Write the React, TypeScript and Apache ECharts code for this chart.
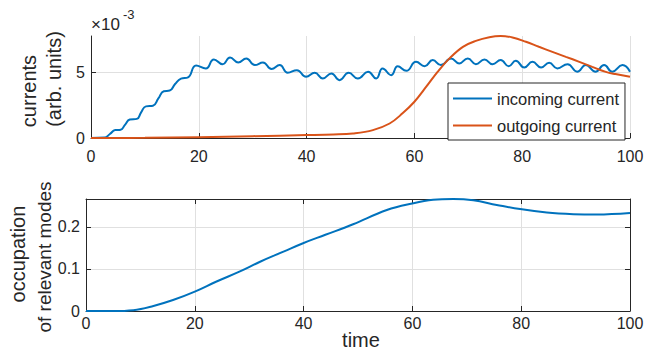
import React, { useEffect, useRef } from "react";
import * as echarts from "echarts";

// incoming current (units of 1e-3)
const incomingTime = [0, 2.5, 3.5, 4.5, 5.5, 6.3, 7.2, 8.5, 9.3, 10.2, 11.5, 12.5, 13.5, 14.6, 15.6, 16.7, 18, 19.5, 21.3, 22.8, 24.4, 25.8, 27.3, 28.8, 30.4, 31.9, 33.5, 35, 36.5, 38.2, 39.9, 41.5, 43, 44.6, 46.1, 47.8, 49.5, 51.4, 52.9, 54.1, 55.7, 56.9, 58.5, 60.3, 61.9, 63.4, 64.9, 66.8, 68.3, 69.9, 71.4, 73, 74.5, 76, 77.5, 78.8, 80.4, 81.9, 83.5, 85, 86.5, 88.4, 90.2, 91.8, 93.6, 95.2, 96.7, 98.6, 100];
const incomingValues = [0, 0.03, 0.3, 0.6, 0.63, 1.0, 1.4, 1.45, 1.95, 2.4, 2.45, 3.0, 3.55, 3.6, 4.1, 4.5, 4.6, 5.5, 5.28, 5.96, 5.6, 6.1, 5.73, 6.03, 5.53, 5.73, 5.23, 5.53, 4.95, 5.15, 4.65, 4.95, 4.52, 4.9, 4.39, 4.95, 4.52, 5.03, 4.52, 5.28, 4.77, 5.45, 5.1, 5.78, 5.45, 5.91, 5.53, 6.04, 5.66, 6.04, 5.6, 5.96, 5.6, 5.91, 5.45, 5.86, 5.35, 5.78, 5.35, 5.71, 5.28, 5.6, 5.03, 5.53, 5.03, 5.53, 5.03, 5.53, 5.03];

// outgoing current (units of 1e-3)
const outgoingTime = [0, 10, 20, 30, 40, 45, 48.6, 52.3, 55.4, 57.8, 60, 62.2, 64.3, 66.5, 69, 71.4, 73.9, 76, 78.2, 80.7, 83.1, 85.6, 88.1, 90.6, 93, 95.5, 97.3, 100];
const outgoingValues = [0, 0.01, 0.06, 0.14, 0.22, 0.27, 0.35, 0.6, 1.1, 1.87, 2.75, 3.89, 5.02, 6.04, 6.92, 7.37, 7.65, 7.74, 7.63, 7.3, 6.92, 6.54, 6.16, 5.78, 5.4, 5.02, 4.85, 4.65];

// occupation of relevant modes
const occupationTime = [0, 5, 8.7, 12.4, 16, 20, 24, 28.3, 32, 36.3, 39.9, 44, 49.1, 55.3, 60.2, 63.8, 67.5, 71.2, 75.5, 79.8, 84.7, 89.6, 93.9, 100];
const occupationValues = [0, 0, 0.002, 0.012, 0.026, 0.046, 0.07, 0.094, 0.117, 0.141, 0.161, 0.181, 0.206, 0.24, 0.256, 0.264, 0.266, 0.263, 0.252, 0.242, 0.234, 0.23, 0.229, 0.2325];

const xTicks = [0, 20, 40, 60, 80, 100];
const topYTicks = [0, 5];
const bottomYTicks = [0, 0.1, 0.2];
const legendNames = ["incoming current", "outgoing current"];

const FONT = "Liberation Sans, Arial, Helvetica, sans-serif";
const TXT = "#262626";
const GRID = "#e0e0e0";
const BLUE = "#0072BD";
const ORANGE = "#D95319";

const zip = (a: number[], b: number[]) => a.map((t, i) => [t, b[i]]);

export default function App() {
  const ref = useRef<HTMLDivElement>(null);
  useEffect(() => {
    if (!ref.current) return;
    const chart = echarts.init(ref.current, null, { renderer: "svg" });
    const topMax = Math.max(...outgoingValues);
    const botMax = Math.max(...occupationValues);
    const axisLine = { show: true, onZero: false, lineStyle: { color: TXT, width: 1 } };
    const tick = (vals: number[]) => ({ show: true, inside: true, length: 5, customValues: vals, lineStyle: { color: TXT } });
    const label = (vals: number[], margin: number) => ({
      show: true,
      customValues: vals,
      color: TXT,
      fontSize: 16,
      fontFamily: FONT,
      margin,
    });
    const txt = (text: string, x: number, y: number, size: number, rot: number, align: string) => ({
      type: "text",
      x,
      y,
      rotation: rot,
      style: {
        text,
        fontSize: size,
        fontFamily: FONT,
        fill: TXT,
        textAlign: align,
        textVerticalAlign: "middle",
        align,
        verticalAlign: "middle",
      },
    });
    chart.setOption({
      animation: false,
      grid: [
        { left: 91, top: 36, width: 539, height: 102 },
        { left: 86, top: 199, width: 544, height: 112 },
      ],
      xAxis: [
        {
          type: "value", gridIndex: 0, min: 0, max: 100, interval: 20, position: "bottom",
          axisLine, axisTick: tick(xTicks), axisLabel: label(xTicks, 10),
          splitLine: { show: true, lineStyle: { color: GRID } },
        },
        {
          type: "value", gridIndex: 1, min: 0, max: 100, interval: 20, position: "bottom",
          axisLine, axisTick: tick(xTicks), axisLabel: label(xTicks, 4),
          splitLine: { show: true, lineStyle: { color: GRID } },
        },
        {
          type: "value", gridIndex: 1, min: 0, max: 100, interval: 20, position: "top",
          axisLine, axisTick: tick(xTicks), axisLabel: { show: false }, splitLine: { show: false },
        },
      ],
      yAxis: [
        {
          type: "value", gridIndex: 0, min: 0, max: topMax, interval: 5, position: "left",
          axisLine, axisTick: tick(topYTicks), axisLabel: label(topYTicks, 6),
          splitLine: { show: true, lineStyle: { color: [GRID, GRID, "rgba(0,0,0,0)"] } },
        },
        {
          type: "value", gridIndex: 1, min: 0, max: botMax, interval: 0.1, position: "left",
          axisLine, axisTick: tick(bottomYTicks), axisLabel: label(bottomYTicks, 6),
          splitLine: { show: true, lineStyle: { color: [GRID, GRID, GRID, "rgba(0,0,0,0)"] } },
        },
        {
          type: "value", gridIndex: 1, min: 0, max: botMax, interval: 0.1, position: "right",
          axisLine, axisTick: tick(bottomYTicks), axisLabel: { show: false }, splitLine: { show: false },
        },
      ],
      legend: {
        data: legendNames,
        orient: "vertical",
        left: 448,
        top: 83,
        icon: "rect",
        itemWidth: 39,
        itemHeight: 2,
        itemGap: 10,
        padding: [7, 6, 6, 5],
        backgroundColor: "#fff",
        borderColor: TXT,
        borderWidth: 1,
        textStyle: { color: TXT, fontSize: 16.5, fontFamily: FONT, lineHeight: 16 },
      },
      series: [
        {
          name: legendNames[0], type: "line", xAxisIndex: 0, yAxisIndex: 0,
          data: zip(incomingTime, incomingValues), smooth: 0.5, showSymbol: false, symbol: "none",
          lineStyle: { color: BLUE, width: 2 }, itemStyle: { color: BLUE },
        },
        {
          name: legendNames[1], type: "line", xAxisIndex: 0, yAxisIndex: 0,
          data: zip(outgoingTime, outgoingValues), smooth: 0.4, showSymbol: false, symbol: "none",
          lineStyle: { color: ORANGE, width: 2 }, itemStyle: { color: ORANGE },
        },
        {
          name: "occupation", type: "line", xAxisIndex: 1, yAxisIndex: 1,
          data: zip(occupationTime, occupationValues), smooth: 0.4, showSymbol: false, symbol: "none",
          lineStyle: { color: BLUE, width: 2 }, itemStyle: { color: BLUE },
        },
      ],
      graphic: [
        txt("currents", 28.5, 91, 20, Math.PI / 2, "center"),
        txt("(arb. units)", 54, 79, 20, Math.PI / 2, "center"),
        txt("occupation", 18, 254, 20, Math.PI / 2, "center"),
        txt("of relevant modes", 44, 257, 19, Math.PI / 2, "center"),
        txt("time", 361, 340, 20, 0, "center"),
        txt("\u00D710", 91, 24.5, 17, 0, "left"),
        txt("-3", 123, 14.5, 13, 0, "left"),
      ],
    });
    return () => chart.dispose();
  }, []);
  return <div ref={ref} style={{ position: "fixed", left: 0, top: 0, width: 647, height: 352, background: "#fff" }} />;
}
